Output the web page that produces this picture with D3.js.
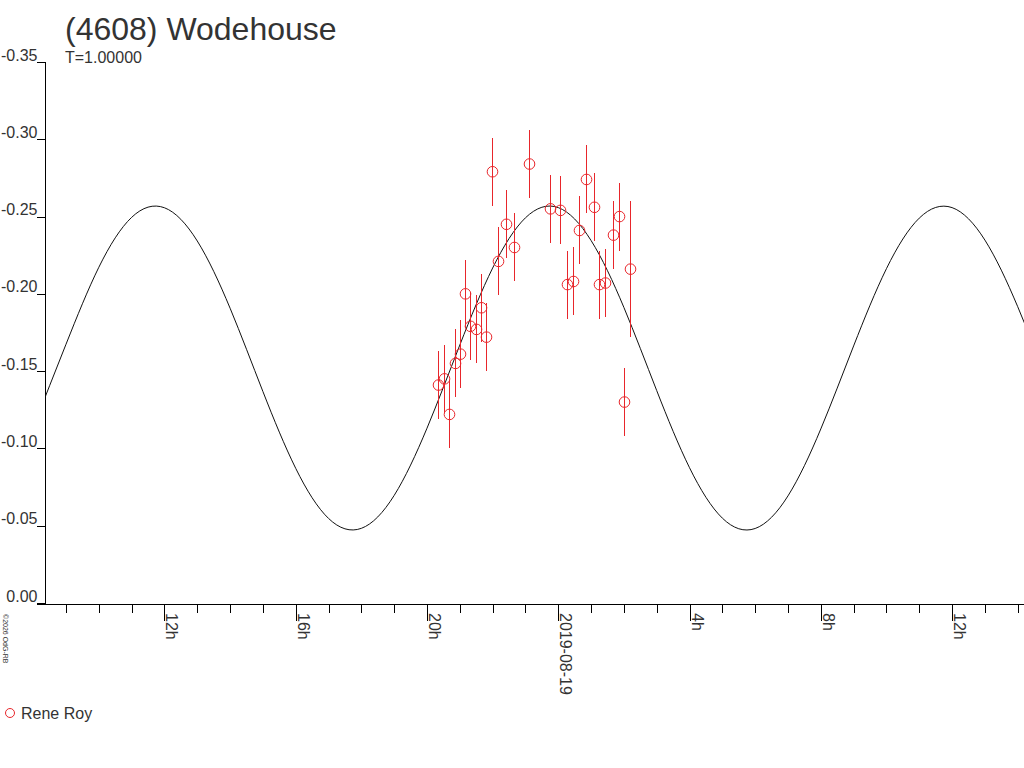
<!DOCTYPE html>
<html>
<head>
<meta charset="utf-8">
<script src="https://cdn.jsdelivr.net/npm/d3@7"></script>
<style>
  html, body { margin: 0; padding: 0; background: #fff; }
  svg { display: block; font-family: "Liberation Sans", Arial, sans-serif; }
</style>
</head>
<body>
<script>
// ---- data ----
const chartTitle = "(4608) Wodehouse";
const periodLabel = "T=1.00000";
const observerName = "Rene Roy";
const copyrightText = "©2026 OdG-RB";

// observation times (UTC) and magnitudes, with error half-widths
const obsTimes = [
  "2019-08-18 20:21", "2019-08-18 20:31", "2019-08-18 20:40", "2019-08-18 20:51",
  "2019-08-18 21:00", "2019-08-18 21:10", "2019-08-18 21:19", "2019-08-18 21:29",
  "2019-08-18 21:38", "2019-08-18 21:48", "2019-08-18 21:59", "2019-08-18 22:09",
  "2019-08-18 22:25", "2019-08-18 22:39", "2019-08-18 23:07", "2019-08-18 23:45",
  "2019-08-19 00:03", "2019-08-19 00:16", "2019-08-19 00:27", "2019-08-19 00:38",
  "2019-08-19 00:50", "2019-08-19 01:05", "2019-08-19 01:14", "2019-08-19 01:25",
  "2019-08-19 01:40", "2019-08-19 01:51", "2019-08-19 02:00", "2019-08-19 02:11"
];
const obsMags = [
  -0.141, -0.145, -0.122, -0.155, -0.161, -0.200, -0.179, -0.177,
  -0.191, -0.172, -0.279, -0.221, -0.245, -0.230, -0.284, -0.255,
  -0.254, -0.206, -0.208, -0.241, -0.274, -0.256, -0.206, -0.207,
  -0.238, -0.250, -0.130, -0.216
];
const obsErrs = [
  0.022, 0.022, 0.022, 0.022, 0.022, 0.022, 0.022, 0.022,
  0.022, 0.022, 0.022, 0.022, 0.022, 0.022, 0.022, 0.022,
  0.022, 0.022, 0.022, 0.022, 0.022, 0.022, 0.022, 0.022,
  0.022, 0.022, 0.022, 0.044
];

// fitted light curve
const fitTimes = [
  "2019-08-18 08:00", "2019-08-18 09:00", "2019-08-18 10:00", "2019-08-18 11:00",
  "2019-08-18 12:00", "2019-08-18 13:00", "2019-08-18 14:00", "2019-08-18 15:00",
  "2019-08-18 16:00", "2019-08-18 17:00", "2019-08-18 18:00", "2019-08-18 19:00",
  "2019-08-18 20:00", "2019-08-18 21:00", "2019-08-18 22:00", "2019-08-18 23:00",
  "2019-08-19 00:00", "2019-08-19 01:00", "2019-08-19 02:00", "2019-08-19 03:00",
  "2019-08-19 04:00", "2019-08-19 05:00", "2019-08-19 06:00", "2019-08-19 07:00",
  "2019-08-19 08:00", "2019-08-19 09:00", "2019-08-19 10:00", "2019-08-19 11:00",
  "2019-08-19 12:00", "2019-08-19 13:00", "2019-08-19 14:00", "2019-08-19 15:00"
];
const fitMags = [
  -0.1136, -0.1674, -0.2172, -0.2495, -0.2557, -0.2342, -0.1907, -0.1368,
  -0.0871, -0.0547, -0.0483, -0.0696, -0.1131, -0.1669, -0.2167, -0.2492,
  -0.2558, -0.2345, -0.1912, -0.1374, -0.0875, -0.0549, -0.0482, -0.0693,
  -0.1126, -0.1663, -0.2163, -0.2490, -0.2558, -0.2348, -0.1917, -0.1379
];

const xDomain = ["2019-08-18 08:22:30", "2019-08-19 14:11:30"];
const yTickValues = [0, -0.05, -0.10, -0.15, -0.20, -0.25, -0.30, -0.35];

// ---- drawing ----
(function () {
const W = 1024, H = 768;
const pLeft = 45.5, pRight = 1024, pTop = 62, pBottom = 603;
const red = "#e8262b", ink = "#333";

const parseMin = d3.utcParse("%Y-%m-%d %H:%M");
const parseSec = d3.utcParse("%Y-%m-%d %H:%M:%S");

const x = d3.scaleUtc().domain(xDomain.map(parseSec)).range([pLeft, pRight]);
const y = d3.scaleLinear().domain([0, -0.35]).range([pBottom, pTop]);

const svg = d3.select("body").append("svg").attr("width", W).attr("height", H);

// title
svg.append("text").attr("x", 65).attr("y", 40)
  .attr("font-size", 32).attr("fill", ink).text(chartTitle);
svg.append("text").attr("x", 65).attr("y", 63)
  .attr("font-size", 16).attr("fill", ink).text(periodLabel);

// y axis
const f2 = d3.format(".2f");
const yAxis = d3.axisLeft(y).tickValues(yTickValues).tickSize(9).tickPadding(0)
  .tickFormat(d => f2(d).replace("\u2212", "-"));
const gy = svg.append("g").attr("transform", `translate(${pLeft},0)`).call(yAxis);
gy.select(".domain").remove();
gy.append("line").attr("x1", 0).attr("x2", 0).attr("y1", pTop).attr("y2", pBottom)
  .attr("stroke", "#000").attr("shape-rendering", "crispEdges");
gy.selectAll(".tick line").attr("stroke", "#000").attr("shape-rendering", "crispEdges");
gy.selectAll(".tick text").attr("font-size", 16).attr("fill", ink)
  .attr("font-family", "Liberation Sans, Arial, sans-serif")
  .attr("dy", "-2").attr("x", -8).attr("text-anchor", "end");

// x axis
const gx = svg.append("g");
gx.append("line").attr("x1", pLeft - 9).attr("x2", pRight)
  .attr("y1", pBottom + 1.5).attr("y2", pBottom + 1.5)
  .attr("stroke", "#000").attr("shape-rendering", "crispEdges");
const hourTicks = x.ticks(d3.utcHour.every(1));
const fmtDate = d3.utcFormat("%Y-%m-%d");
gx.selectAll("line.tk").data(hourTicks).join("line").attr("class", "tk")
  .attr("x1", d => Math.round(x(d)) + 0.5).attr("x2", d => Math.round(x(d)) + 0.5)
  .attr("y1", pBottom + 1.5)
  .attr("y2", d => d.getUTCHours() % 4 === 0 ? pBottom + 18 : pBottom + 10)
  .attr("stroke", "#000").attr("shape-rendering", "crispEdges");
gx.selectAll("text.tl").data(hourTicks.filter(d => d.getUTCHours() % 4 === 0)).join("text")
  .attr("class", "tl")
  .attr("transform", d => `translate(${Math.round(x(d)) + 2},${pBottom + 10}) rotate(90)`)
  .attr("font-size", 16).attr("fill", ink)
  .text(d => d.getUTCHours() === 0 ? fmtDate(d) : d.getUTCHours() + "h");

// copyright
svg.append("text").attr("transform", "translate(3,614) rotate(90)")
  .attr("font-size", 7).attr("fill", ink).text(copyrightText);

// clip
svg.append("clipPath").attr("id", "plot").append("rect")
  .attr("x", pLeft).attr("y", 0).attr("width", pRight - pLeft).attr("height", pBottom);

// fitted curve
const fit = fitTimes.map((t, i) => ({ t: parseMin(t), m: fitMags[i] }));
svg.append("path").datum(fit).attr("clip-path", "url(#plot)")
  .attr("fill", "none").attr("stroke", "#111").attr("stroke-width", 1)
  .attr("d", d3.line().x(d => x(d.t)).y(d => y(d.m)).curve(d3.curveNatural));

// observations
const obs = obsTimes.map((t, i) => ({ t: parseMin(t), m: obsMags[i], e: obsErrs[i] }));
const gp = svg.append("g");
gp.selectAll("line").data(obs).join("line")
  .attr("x1", d => Math.round(x(d.t)) + 0.5).attr("x2", d => Math.round(x(d.t)) + 0.5)
  .attr("y1", d => y(d.m - d.e)).attr("y2", d => y(d.m + d.e))
  .attr("stroke", red).attr("stroke-width", 1).attr("shape-rendering", "crispEdges");
gp.selectAll("circle").data(obs).join("circle")
  .attr("cx", d => Math.round(x(d.t)) + 0.5).attr("cy", d => y(d.m)).attr("r", 5.3)
  .attr("fill", "none").attr("stroke", red).attr("stroke-width", 1);

// legend
svg.append("circle").attr("cx", 10).attr("cy", 713).attr("r", 4.5)
  .attr("fill", "none").attr("stroke", red);
svg.append("text").attr("x", 21).attr("y", 719).attr("font-size", 16).attr("fill", ink)
  .text(observerName);
})();
</script>
</body>
</html>
